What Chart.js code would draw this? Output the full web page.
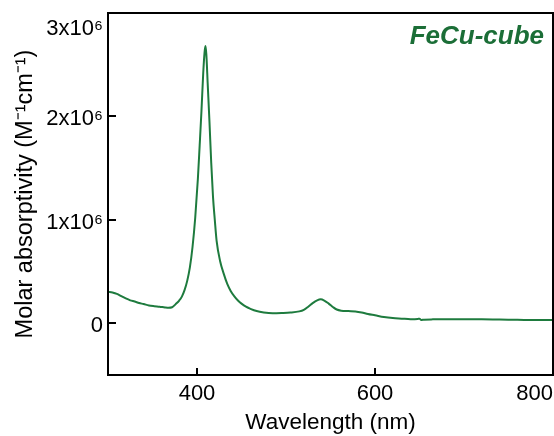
<!DOCTYPE html>
<html><head><meta charset="utf-8">
<script src="https://cdn.jsdelivr.net/npm/chart.js@4/dist/chart.umd.min.js"></script>
<style>html,body{margin:0;padding:0;background:#fff;}#wrap{width:554px;height:436px;}</style>
</head><body><div id="wrap"><canvas id="c" width="554" height="436"></canvas></div>
<script>
// Wavelength (nm)
const wavelengths = [300,305,310,315,320,325,330,335,340,346,352,358,364,368,372,376,380,383,386,389,392,395,398,401,403,405,407,408.5,409.5,410.5,412,414,416,418,420,422,426,430,434,438,442,446,450,455,460,467,475,485,495,505,515,520,525,530,535,539,543,548,553,557,562,570,578,585,592,600,610,620,630,640,648,650,652,655,665,680,700,720,740,760,780,800];
// Molar absorptivity in units of 10^6 M^-1 cm^-1
const absorptivity = [0.305,0.298,0.285,0.262,0.240,0.222,0.210,0.196,0.186,0.172,0.165,0.160,0.153,0.150,0.155,0.185,0.220,0.258,0.320,0.410,0.540,0.740,1.020,1.400,1.720,2.050,2.420,2.620,2.680,2.600,2.320,1.950,1.550,1.220,1.000,0.800,0.600,0.480,0.380,0.310,0.260,0.220,0.190,0.160,0.140,0.118,0.105,0.098,0.100,0.104,0.115,0.130,0.160,0.195,0.222,0.232,0.220,0.190,0.155,0.133,0.122,0.118,0.115,0.105,0.090,0.077,0.060,0.050,0.045,0.040,0.042,0.045,0.032,0.035,0.038,0.039,0.039,0.039,0.036,0.034,0.031,0.031];
const xTickValues = [400, 600, 800];
const yTickValues = [0, 1, 2, 3];
const yTickLabels = ['0', '1x10\u2076', '2x10\u2076', '3x10\u2076'];
const xTitle = 'Wavelength (nm)';
const yTitle = 'Molar absorptivity (M\u207B\u00B9cm\u207B\u00B9)';
const sampleLabel = 'FeCu-cube';

const lineColor = '#1e7b3e';
const labelColor = '#1b6e37';
const FONT = 'Liberation Sans, Arial, sans-serif';

const points = wavelengths.map((w, i) => ({x: w, y: absorptivity[i]}));

function zeroPad(s) { s.paddingLeft = 0; s.paddingRight = 0; s.paddingTop = 0; s.paddingBottom = 0; }

const framePlugin = {
  id: 'frame',
  afterDatasetsDraw(chart) {
    const {ctx, chartArea: a, scales} = chart;
    ctx.save();
    ctx.strokeStyle = '#000';
    ctx.lineWidth = 2;
    ctx.lineCap = 'butt';
    ctx.beginPath();
    xTickValues.forEach(v => {
      const px = Math.round(scales.x.getPixelForValue(v));
      ctx.moveTo(px, a.bottom); ctx.lineTo(px, a.bottom - 7);
    });
    yTickValues.forEach(v => {
      const py = Math.round(scales.y.getPixelForValue(v));
      ctx.moveTo(a.left, py); ctx.lineTo(a.left + 8, py);
    });
    ctx.stroke();
    ctx.strokeRect(a.left, a.top, a.right - a.left, a.bottom - a.top);
    ctx.fillStyle = labelColor;
    ctx.font = 'italic bold 26px ' + FONT;
    ctx.textAlign = 'right';
    ctx.textBaseline = 'alphabetic';
    ctx.fillText(sampleLabel, a.right - 9, a.top + 31);
    ctx.restore();
  }
};

new Chart(document.getElementById('c'), {
  type: 'scatter',
  data: {
    datasets: [{
      data: points,
      showLine: true,
      borderColor: lineColor,
      borderWidth: 2,
      pointRadius: 0,
      cubicInterpolationMode: 'monotone',
      fill: false
    }]
  },
  options: {
    responsive: false,
    devicePixelRatio: 1,
    animation: false,
    layout: {padding: {top: 13, right: 1, left: 0, bottom: 0}},
    plugins: {legend: {display: false}, tooltip: {enabled: false}},
    scales: {
      x: {
        type: 'linear', min: 300, max: 800,
        afterBuildTicks: s => { s.ticks = [300, ...xTickValues].map(v => ({value: v})); },
        afterFit: s => { s.height = 61; zeroPad(s); },
        grid: {display: false, drawTicks: false},
        border: {display: false},
        ticks: {
          align: 'inner', autoSkip: false, maxRotation: 0, padding: 6,
          color: '#000', font: {family: FONT, size: 22},
          callback: v => (v === 300 ? '' : String(v))
        },
        title: {display: true, text: xTitle, color: '#000', font: {family: FONT, size: 22.5}, padding: {top: 0, bottom: 0}}
      },
      y: {
        type: 'linear', min: -0.5, max: 3.0,
        afterBuildTicks: s => { s.ticks = yTickValues.map(v => ({value: v})); },
        afterFit: s => { s.width = 108; zeroPad(s); },
        grid: {display: false, drawTicks: false},
        border: {display: false},
        ticks: {
          autoSkip: false, padding: 5, labelOffset: 3, color: '#000', font: {family: FONT, size: 22},
          callback: v => {
            const i = yTickValues.indexOf(v);
            if (i < 0) return '';
            return i === yTickValues.length - 1 ? ['', yTickLabels[i]] : yTickLabels[i];
          }
        },
        title: {display: true, text: yTitle, color: '#000', font: {family: FONT, size: 23.5}, padding: {top: 11, bottom: 0}}
      }
    }
  },
  plugins: [framePlugin]
});
</script>
</body></html>
